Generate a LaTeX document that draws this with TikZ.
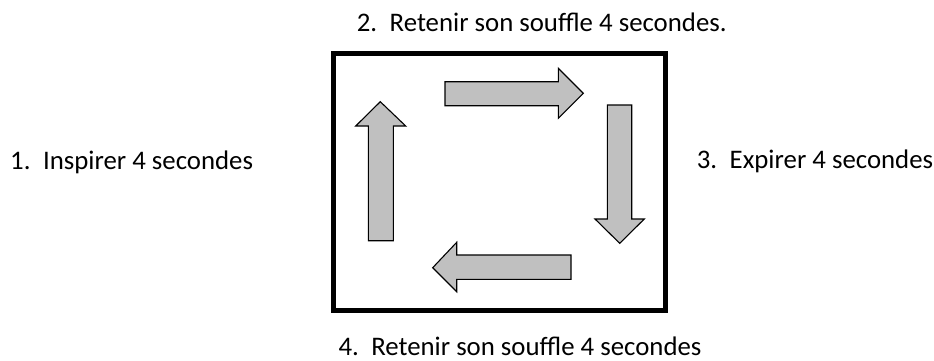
\documentclass[tikz,border=0pt]{standalone}
\usepackage{fontspec}
\setmainfont{Carlito}
\definecolor{arrowgray}{HTML}{C0C0C0}
\begin{document}
\begin{tikzpicture}[x=1pt,y=-1pt,
  label/.style={anchor=base west,inner sep=0pt,font=\fontsize{26.8}{30}\selectfont},
  blockarrow/.style={fill=arrowgray,draw=black,line width=1.1pt,line join=miter}]
\useasboundingbox (0,0) rectangle (934,360);
% frame
\draw[line width=5pt] (333.5,53.5) rectangle (665.8,310);
% right-pointing arrow (top)
\draw[blockarrow] (445,81.7) -- (558.3,81.7) -- (558.3,68.3) -- (583.3,93.3)
  -- (558.3,118.3) -- (558.3,105.7) -- (445,105.7) -- cycle;
% down-pointing arrow (right)
\draw[blockarrow] (607.3,105) -- (631.7,105) -- (631.7,219) -- (644.3,219)
  -- (619.7,243.3) -- (595,219) -- (607.3,219) -- cycle;
% left-pointing arrow (bottom)
\draw[blockarrow] (571,255) -- (456.7,255) -- (456.7,242.3) -- (432.7,267.7)
  -- (456.7,291.7) -- (456.7,279.3) -- (571,279.3) -- cycle;
% up-pointing arrow (left)
\draw[blockarrow] (368.3,240.7) -- (368.3,126) -- (355.7,126) -- (380.3,101.7)
  -- (405.7,126) -- (393.3,126) -- (393.3,240.7) -- cycle;
% step labels
\node[label] (s1) at (10,169) {1.\hspace{12.5pt}Inspirer 4 secondes};
\node[label] (s2) at (356.7,31.7) {2.\hspace{12.5pt}Retenir son souffle 4 secondes.};
\node[label] (s3) at (696.7,168) {3.\hspace{12.5pt}Expirer 4 secondes};
\node[label] (s4) at (338.3,355) {4.\hspace{12.5pt}Retenir son souffle 4 secondes};
\end{tikzpicture}
\end{document}
